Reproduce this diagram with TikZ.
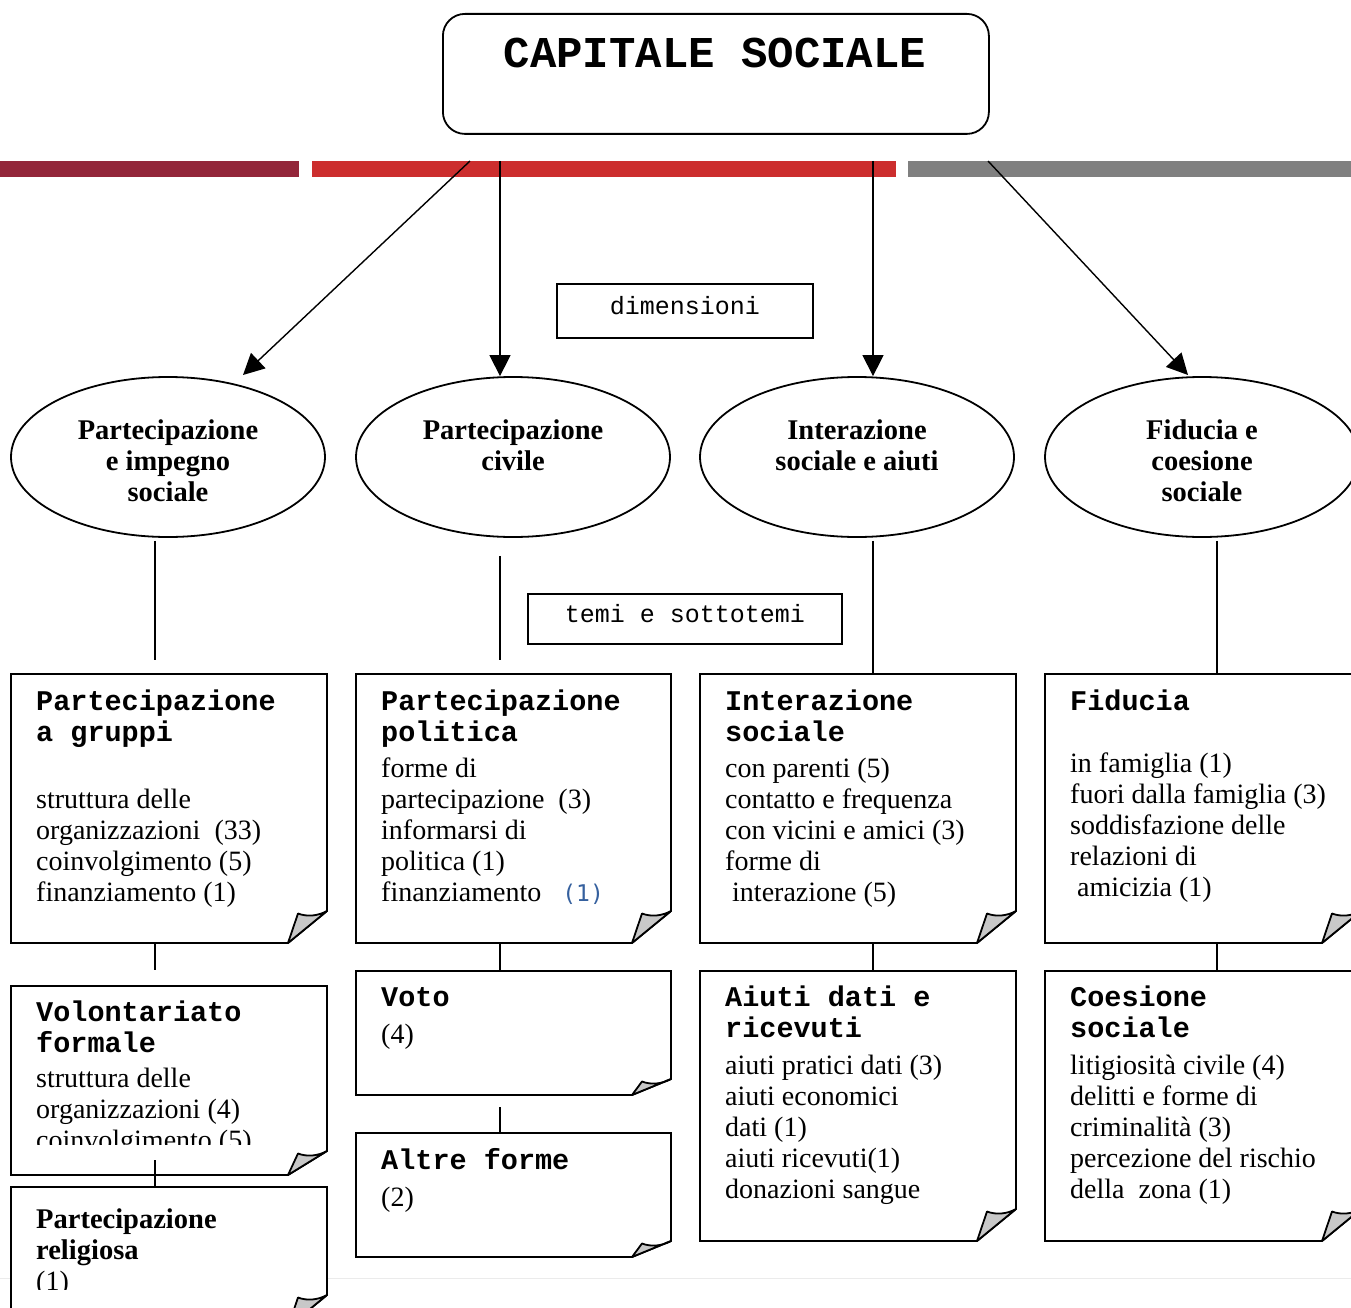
\documentclass[tikz,border=0pt]{standalone}
\usepackage{fontspec}
\setmainfont{Liberation Serif}
\setmonofont{Liberation Mono}
\newfontfamily\dvmono{DejaVu Sans Mono}
\usetikzlibrary{arrows.meta,shapes.geometric,calc}
\definecolor{barA}{HTML}{93263A}
\definecolor{barB}{HTML}{CC2E2E}
\definecolor{barC}{HTML}{808080}
\definecolor{foldgray}{HTML}{C8C8C8}
\definecolor{numblue}{HTML}{35609E}
\newcommand\ttl[1]{{\ttfamily\bfseries\fontsize{28.5}{31}\selectfont #1}}
\newcommand\lines[1]{{\setlength\tabcolsep{0pt}\begin{tabular}[t]{@{}l@{}}#1\end{tabular}}}
% name, x1, y1, x2, y2, fold height
\newcommand\notebox[6]{%
  \node[inner sep=0pt, outer sep=0pt, minimum width={#4-#2}, minimum height={#5-#3}, anchor=north west] (#1) at (#2,#3) {};
  \draw[boxline, fill=white] (#1.north west) -- (#1.north east) -- ([yshift=#6pt]#1.south east) -- ([xshift=-39pt]#1.south east) -- (#1.south west) -- cycle;
  \draw[boxline, fill=foldgray, line join=round] ([xshift=-39pt]#1.south east) -- ([xshift=-29pt,yshift={(#6-2.5)*1pt}]#1.south east) .. controls ([xshift=-20pt,yshift={(#6-6)*1pt}]#1.south east) and ([xshift=-9pt,yshift={(#6-5)*1pt}]#1.south east) .. ([yshift=#6pt]#1.south east) -- cycle;
}
\begin{document}
\begin{tikzpicture}[x=1pt,y=-1pt,
  boxline/.style={line width=1.8pt, line join=miter},
  conn/.style={line width=1.8pt},
  arr/.style={line width=1.4pt, -{Triangle[length=21pt,width=21pt]}},
  dimbox/.style={draw, line width=1.8pt, inner sep=0pt, font=\ttfamily\fontsize{25}{30}\selectfont},
  ell/.style={draw, ellipse, fill=white, line width=1.8pt, minimum width=314pt, minimum height=160pt, inner sep=0pt, align=center, font=\bfseries\fontsize{28.5}{31}\selectfont},
  notetext/.style={anchor=base west, inner sep=0pt, font=\fontsize{28}{31}\selectfont},
]
\clip (0,0) rectangle (1351,1308);
\fill[white] (0,0) rectangle (1351,1308);
\draw[black!8, line width=1pt] (0,1278) -- (1351,1278);

% title
\node[draw, line width=1.8pt, rounded corners=22pt, minimum width=546pt, minimum height=120pt, inner sep=0pt, anchor=north west] (cap) at (442,13) {};
\node[anchor=base, inner sep=0pt, font=\ttfamily\bfseries\fontsize{44}{50}\selectfont] (captxt) at (715,68) {CAPITALE SOCIALE};

% bars
\fill[barA] (0,161) rectangle (299,177);
\fill[barB] (312,161) rectangle (896,177);
\fill[barC] (908,161) rectangle (1351,177);

% labels
\node[dimbox, minimum width=256pt, minimum height=54pt, text height=12pt, text depth=6pt] (dim) at (685,311) {dimensioni};
\node[dimbox, minimum width=314pt, minimum height=50pt, text height=13pt, text depth=6pt] (temi) at (685,619) {temi e sottotemi};

% ellipses
\node[ell] (e1) at (168,457) {\rule{0pt}{27pt}Partecipazione\\e impegno\\sociale};
\node[ell] (e2) at (513,457) {\rule{0pt}{27pt}Partecipazione\\civile\\\mbox{}};
\node[ell] (e3) at (857,457) {\rule{0pt}{27pt}Interazione\\sociale e aiuti\\\mbox{}};
\node[ell] (e4) at (1202,457) {\rule{0pt}{27pt}Fiducia e\\coesione\\sociale};

% arrows
\coordinate (s1) at (470,161);
\coordinate (s2) at (500,161);
\coordinate (s3) at (873,161);
\coordinate (s4) at (988,161);
\draw[arr] (s1) -- ($(e1.center)+(75,-82)$);
\draw[arr] (s2) -- (s2 |- e2.north);
\draw[arr] (s3) -- (s3 |- e3.north);
\draw[arr] (s4) -- ($(e4.center)+(-14,-82)$);

% note boxes row 1
\notebox{n1}{11}{674}{327}{943}{32}
\notebox{n2}{356}{674}{671}{943}{32}
\notebox{n3}{700}{674}{1016}{943}{32}
\notebox{n4}{1045}{674}{1361}{943}{32}
% row 2
\notebox{m1}{11}{986}{327}{1175}{24}
\notebox{m2}{356}{971}{671}{1095}{16}
\notebox{m3}{700}{971}{1016}{1241}{32}
\notebox{m4}{1045}{971}{1361}{1241}{32}
% row 3
\notebox{r1}{11}{1187}{327}{1327}{32}
\notebox{a2}{356}{1133}{671}{1257}{16}

% connectors
\draw[conn] ([xshift=-13pt,yshift=-3pt]e1.south) -- ([xshift=-14pt,yshift=14pt]n1.north);
\draw[conn] ([xshift=-13pt,yshift=-18pt]e2.south) -- ([xshift=-13.5pt,yshift=14pt]n2.north);
\draw[conn] ([xshift=16pt,yshift=-3pt]e3.south) -- ([xshift=15pt]n3.north);
\draw[conn] ([xshift=15pt,yshift=-3pt]e4.south) -- ([xshift=14pt]n4.north);
\draw[conn] ([xshift=-14pt]n1.south) -- ([xshift=-14pt,yshift=16pt]m1.north);
\draw[conn] ([xshift=-13.5pt]n2.south) -- ([xshift=-13.5pt]m2.north);
\draw[conn] ([xshift=15pt]n3.south) -- ([xshift=15pt]m3.north);
\draw[conn] ([xshift=14pt]n4.south) -- ([xshift=14pt]m4.north);
\draw[conn] ([xshift=-14pt,yshift=15pt]m1.south) -- ([xshift=-14pt]r1.north);
\draw[conn] ([xshift=-13.5pt,yshift=-12pt]m2.south) -- ([xshift=-13.5pt]a2.north);

% texts row 1
\node[notetext] (n1t) at (36,710) {\lines{\ttl{Partecipazione}\\ \ttl{a gruppi}\\[5pt] \\ struttura delle\\ organizzazioni\ \ (33)\\ coinvolgimento (5)\\ finanziamento (1)}};
\node[notetext] (n2t) at (381,710) {\lines{\ttl{Partecipazione}\\ \ttl{politica}\\[5pt] forme di\\ partecipazione\ \ (3)\\ informarsi di\\ politica (1)\\ finanziamento\hspace{21pt}{\dvmono\fontsize{23}{31}\selectfont\color{numblue}(1)}}};
\node[notetext] (n3t) at (725,710) {\lines{\ttl{Interazione}\\ \ttl{sociale}\\[5pt] con parenti (5)\\ contatto e frequenza\\ con vicini e amici (3)\\ forme di\\ \hspace{7pt}interazione (5)}};
\node[notetext] (n4t) at (1070,710) {\lines{\ttl{Fiducia}\\ \\ in famiglia (1)\\ fuori dalla famiglia (3)\\ soddisfazione delle\\ relazioni di\\ \hspace{7pt}amicizia (1)}};

% texts row 2
\begin{scope}
\clip (11,986) rectangle (327,1144);
\node[notetext] (m1t) at (36,1021) {\lines{\ttl{Volontariato}\\ \ttl{formale}\\[4pt] struttura delle\\ organizzazioni (4)\\ coinvolgimento (5)}};
\end{scope}
\node[notetext] (m2t) at (381,1006) {\lines{\ttl{Voto}\\[6pt] (4)}};
\node[notetext] (m3t) at (725,1006) {\lines{\ttl{Aiuti dati e}\\ \ttl{ricevuti}\\[6pt] aiuti pratici dati (3)\\ aiuti economici\\ dati (1)\\ aiuti ricevuti(1)\\ donazioni sangue}};
\node[notetext] (m4t) at (1070,1006) {\lines{\ttl{Coesione}\\ \ttl{sociale}\\[6pt] litigiosità civile (4)\\ delitti e forme di\\ criminalità (3)\\ percezione del rischio\\ della\ \ zona (1)}};
\node[notetext] (a2t) at (381,1169) {\lines{\ttl{Altre forme}\\[6pt] (2)}};
\begin{scope}
\clip (11,1187) rectangle (327,1289);
\node[notetext] (r1t) at (36,1228) {\lines{\textbf{\fontsize{28.5}{31}\selectfont Partecipazione}\\ \textbf{\fontsize{28.5}{31}\selectfont religiosa}\\ (1)}};
\end{scope}
\end{tikzpicture}
\end{document}
